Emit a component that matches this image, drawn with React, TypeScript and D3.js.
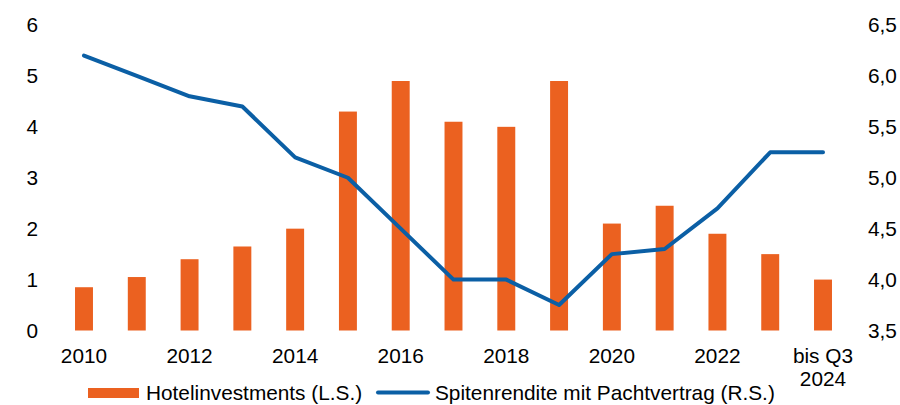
import React from 'react';
import * as d3 from 'd3';

const categories = ['2010', '2011', '2012', '2013', '2014', '2015', '2016', '2017', '2018', '2019', '2020', '2021', '2022', '2023', 'bis Q3 2024'];
const investments = [0.85, 1.05, 1.4, 1.65, 2.0, 4.3, 4.9, 4.1, 4.0, 4.9, 2.1, 2.45, 1.9, 1.5, 1.0];
const yields = [6.2, 6.0, 5.8, 5.7, 5.2, 5.0, 4.5, 4.0, 4.0, 3.75, 4.25, 4.3, 4.7, 5.25, 5.25];
const leftTicks = [0, 1, 2, 3, 4, 5, 6];
const rightTicks = [3.5, 4.0, 4.5, 5.0, 5.5, 6.0, 6.5];

const W = 900;
const H = 405;
const orange = '#EB6120';
const blue = '#0B5FA5';
const font = 'Liberation Sans, Arial, sans-serif';
const fs = 20.8;

const App = () => {
  const x = d3.scaleBand().domain(categories).range([57.6, 849.4]).paddingInner(0.66).paddingOuter(0.33);
  const yL = d3.scaleLinear().domain([0, 6]).range([330.5, 25]);
  const yR = d3.scaleLinear().domain([3.5, 6.5]).range([330.5, 25]);
  const cx = (c: string) => (x(c) ?? 0) + x.bandwidth() / 2;

  const line = d3
    .line<number>()
    .x((_, i) => cx(categories[i]))
    .y(d => yR(d));

  const fmt = (v: number) => v.toFixed(1).replace('.', ',');

  return (
    <svg width={W} height={H} style={{ position: 'absolute', left: 0, top: 0 }} fontFamily={font}>
      <rect width={W} height={H} fill="#fff" />
      {investments.map((v, i) => (
        <rect
          key={categories[i]}
          x={x(categories[i])}
          y={yL(v)}
          width={x.bandwidth()}
          height={yL(0) - yL(v)}
          fill={orange}
        />
      ))}
      <path d={line(yields) ?? ''} fill="none" stroke={blue} strokeWidth={4} strokeLinejoin="round" strokeLinecap="round" />

      {leftTicks.map(t => (
        <text key={t} x={38} y={yL(t)} dy="0.35em" textAnchor="end" fontSize={fs} fill="#000">
          {t}
        </text>
      ))}
      {rightTicks.map(t => (
        <text key={t} x={868} y={yR(t)} dy="0.35em" textAnchor="start" fontSize={fs} fill="#000">
          {fmt(t)}
        </text>
      ))}
      {categories.map((c, i) => {
        if (i % 2 === 1) return null;
        const parts = c === 'bis Q3 2024' ? ['bis Q3', '2024'] : [c];
        return (
          <text key={c} x={cx(c)} y={363} textAnchor="middle" fontSize={fs} fill="#000">
            {parts.map((p, j) => (
              <tspan key={p} x={cx(c)} dy={j === 0 ? 0 : 23}>
                {p}
              </tspan>
            ))}
          </text>
        );
      })}

      <g>
        <rect x={88} y={388} width={51} height={10} fill={orange} />
        <text x={146} y={400} fontSize={fs} fill="#000">
          Hotelinvestments (L.S.)
        </text>
        <line x1={378} x2={428} y1={392.5} y2={392.5} stroke={blue} strokeWidth={4} strokeLinecap="round" />
        <text x={435} y={400} fontSize={fs} fill="#000">
          Spitenrendite mit Pachtvertrag (R.S.)
        </text>
      </g>
    </svg>
  );
};

export default App;
